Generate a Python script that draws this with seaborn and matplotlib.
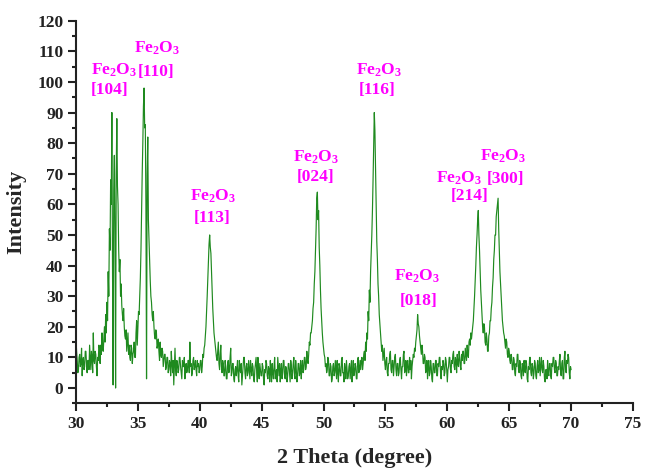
import matplotlib
matplotlib.use("Agg")
import numpy as np
import pandas as pd
import seaborn as sns
import matplotlib.pyplot as plt

# ---- data (2-theta 30..70, step 0.05) ----
intensity = [
    16, 12, 9, 5, 6, 10, 11, 7, 8, 13, 4, 9, 10, 6, 7, 12, 12, 8, 5, 9,          # 30
    9, 6, 14, 10, 6, 12, 10, 5, 18, 9, 8, 12, 11, 7, 4, 10, 9, 14, 13, 8,         # 31
    14, 11, 18, 13, 12, 16, 20, 15, 24, 18, 28, 22, 38, 30, 52, 45, 68, 60, 90, 40,  # 32
    1, 65, 76, 50, 0, 70, 88, 66, 60, 45, 38, 42, 30, 34, 27, 24, 22, 26, 20, 17,    # 33
    16, 19, 12, 15, 18, 11, 14, 10, 9, 14, 13, 8, 11, 12, 15, 10, 10, 18, 22, 14,    # 34
    20, 25, 24, 30, 36, 45, 58, 70, 80, 92, 98, 85, 86, 60, 3, 70, 82, 55, 48, 40,   # 35
    35, 30, 28, 24, 22, 25, 20, 17, 16, 19, 18, 13, 14, 16, 12, 9, 15, 11, 10, 13,   # 36
    12, 7, 9, 11, 11, 6, 7, 10, 10, 5, 6, 9, 8, 4, 12, 8, 5, 9, 1, 7,              # 37
    13, 6, 4, 9, 8, 5, 6, 10, 10, 7, 5, 3, 9, 7, 7, 10, 3, 6, 8, 5,                # 38
    6, 9, 9, 5, 15, 7, 8, 4, 5, 9, 10, 6, 7, 9, 6, 4, 9, 7, 8, 5,                  # 39
    6, 9, 9, 5, 7, 11, 10, 13, 14, 17, 20, 25, 30, 36, 42, 47, 50, 46, 44, 38,     # 40
    32, 26, 22, 18, 16, 14, 12, 10, 9, 12, 15, 8, 6, 11, 14, 7, 5, 9, 8, 4,        # 41
    4, 9, 7, 3, 3, 8, 9, 5, 6, 10, 13, 4, 5, 8, 8, 3, 2, 6, 7, 4,                  # 42
    6, 9, 4, 2, 9, 6, 5, 8, 1, 4, 7, 10, 10, 5, 3, 7, 8, 4, 5, 9,                  # 43
    6, 3, 9, 6, 4, 8, 7, 3, 2, 6, 8, 10, 5, 2, 10, 6, 3, 8, 6, 4,                  # 44
    4, 8, 7, 3, 1, 6, 5, 9, 8, 4, 3, 7, 6, 2, 9, 5, 2, 8, 5, 3,                    # 45
    7, 10, 3, 5, 6, 2, 10, 7, 4, 8, 2, 6, 8, 3, 5, 9, 9, 4, 3, 7,                  # 46
    6, 2, 4, 8, 8, 5, 2, 9, 7, 3, 5, 8, 10, 4, 3, 9, 6, 2, 4, 8,                   # 47
    8, 4, 5, 9, 3, 7, 9, 5, 6, 10, 10, 6, 7, 12, 9, 8, 11, 15, 14, 18,             # 48
    18, 20, 22, 26, 28, 34, 38, 45, 52, 62, 64, 55, 58, 46, 40, 32, 26, 22, 18, 15,  # 49
    13, 11, 10, 7, 8, 5, 6, 10, 9, 4, 4, 8, 7, 2, 3, 7, 8, 4, 5, 9,                # 50
    6, 3, 9, 5, 2, 8, 7, 4, 4, 9, 10, 5, 5, 2, 8, 6, 3, 9, 6, 3,                   # 51
    4, 7, 8, 3, 6, 9, 2, 5, 9, 4, 5, 8, 7, 3, 3, 9, 10, 5, 6, 9,                   # 52
    6, 9, 10, 6, 8, 11, 12, 9, 15, 12, 18, 16, 25, 22, 32, 28, 38, 44, 50, 58,     # 53
    68, 80, 90, 84, 72, 60, 48, 42, 34, 30, 24, 21, 18, 15, 12, 14, 9, 11, 13, 8,  # 54
    6, 9, 10, 5, 4, 8, 8, 11, 12, 6, 5, 9, 9, 4, 7, 10, 11, 6, 4, 8,               # 55
    8, 4, 5, 9, 10, 6, 3, 7, 7, 11, 12, 5, 6, 9, 4, 8, 9, 5, 5, 10,                # 56
    6, 9, 3, 7, 9, 11, 10, 13, 12, 15, 17, 19, 24, 21, 20, 17, 15, 13, 11, 14,     # 57
    12, 8, 8, 11, 10, 5, 6, 9, 3, 7, 9, 4, 5, 9, 7, 3, 2, 8, 8, 5,                 # 58
    5, 9, 9, 4, 4, 8, 7, 10, 10, 5, 3, 7, 6, 9, 8, 4, 5, 10, 9, 6,                 # 59
    2, 6, 7, 10, 10, 6, 5, 9, 8, 11, 12, 7, 6, 10, 9, 5, 11, 8, 7, 12,             # 60
    10, 7, 6, 11, 9, 12, 12, 8, 8, 13, 11, 9, 14, 11, 10, 15, 16, 14, 18, 16,      # 61
    18, 20, 22, 26, 30, 35, 40, 46, 50, 55, 58, 50, 45, 38, 32, 28, 24, 20, 18, 21,  # 62
    20, 15, 14, 18, 16, 12, 12, 17, 18, 22, 22, 26, 28, 33, 36, 42, 45, 50, 50, 56,  # 63
    58, 60, 62, 52, 45, 38, 34, 30, 26, 22, 20, 18, 17, 15, 13, 16, 15, 11, 10, 13,  # 64
    12, 9, 8, 11, 10, 6, 6, 10, 9, 5, 4, 8, 7, 11, 11, 6, 5, 9, 8, 4,              # 65
    3, 8, 7, 4, 9, 6, 5, 9, 8, 3, 2, 7, 6, 10, 10, 5, 4, 8, 7, 3,                  # 66
    5, 9, 8, 4, 3, 7, 9, 5, 6, 10, 4, 7, 10, 6, 5, 9, 7, 3, 2, 6,                  # 67
    6, 3, 9, 5, 4, 8, 8, 4, 3, 8, 7, 10, 10, 6, 5, 9, 8, 4, 4, 7,                  # 68
    6, 9, 11, 5, 4, 8, 9, 3, 3, 10, 12, 6, 5, 9, 8, 11, 10, 5, 3, 7,               # 69
    6,                                                                             # 70
]
two_theta = np.linspace(30.0, 70.0, len(intensity))

# peak labels
hkl_labels = ["[104]", "[110]", "[113]", "[024]", "[116]", "[018]", "[214]", "[300]"]
phase_label = "Fe$_2$O$_3$"
# label anchor positions (x, y) for the phase line and the hkl line
phase_pos = [(33.05, 103.9), (36.55, 111.1), (41.1, 62.5), (49.43, 75.5),
             (54.47, 103.9), (57.58, 36.4), (60.94, 68.6), (64.49, 75.6)]
hkl_pos = [(32.75, 97.4), (36.5, 103.3), (40.97, 55.5), (49.35, 69.0),
           (54.3, 97.4), (57.65, 28.3), (61.8, 62.6), (64.73, 68.3)]

x_ticks = [30, 35, 40, 45, 50, 55, 60, 65, 70, 75]
y_ticks = [0, 10, 20, 30, 40, 50, 60, 70, 80, 90, 100, 110, 120]

df = pd.DataFrame({"two_theta": two_theta, "intensity": intensity})

sns.set_theme(style="ticks")
plt.rcParams.update({
    "font.family": ["Liberation Serif", "DejaVu Serif"],
    "font.weight": "bold",
    "mathtext.fontset": "custom",
    "mathtext.rm": "Liberation Serif:bold",
    "mathtext.it": "Liberation Serif:bold",
    "mathtext.bf": "Liberation Serif:bold",
    "mathtext.default": "rm",
    "axes.linewidth": 1.5,
    "xtick.major.width": 1.5,
    "ytick.major.width": 1.5,
    "xtick.minor.width": 1.5,
    "ytick.minor.width": 1.5,
    "xtick.major.size": 6,
    "ytick.major.size": 6,
    "xtick.minor.size": 3,
    "ytick.minor.size": 3,
    "xtick.color": "#222222",
    "ytick.color": "#222222",
})

fig = plt.figure(figsize=(6.45, 4.71), dpi=100)
fig.patch.set_facecolor("white")
ax = fig.add_axes([0.1178, 0.1437, 0.8636, 0.8124])
ax.set_facecolor("white")

sns.lineplot(data=df, x="two_theta", y="intensity", ax=ax, color="#1f8a1f",
             linewidth=0.85, estimator=None, sort=False)

ax.set_xlim(30, 75)
ax.set_ylim(-5, 120)
ax.set_xticks(x_ticks)
ax.set_yticks(y_ticks)
ax.set_xticks(np.arange(32.5, 75, 5), minor=True)
ax.set_yticks(np.arange(-5, 120, 10), minor=True)
ax.tick_params(axis="both", which="both", direction="out", labelsize=12.5, pad=3)
for lab in ax.get_xticklabels() + ax.get_yticklabels():
    lab.set_fontweight("bold")

sns.despine(ax=ax)
for s in ("left", "bottom"):
    ax.spines[s].set_color("#222222")

ax.set_xlabel("2 Theta (degree)", fontsize=16, fontweight="bold", labelpad=12)
ax.set_ylabel("Intensity", fontsize=16, fontweight="bold", labelpad=8)

for (px, py), (hx, hy), lab in zip(phase_pos, hkl_pos, hkl_labels):
    ax.text(px, py, phase_label, color="#ff00ff", fontsize=12.5, fontweight="bold",
            ha="center", va="center")
    ax.text(hx, hy, lab, color="#ff00ff", fontsize=12.5, fontweight="bold",
            ha="center", va="center")

fig.savefig("out.png", dpi=100, facecolor="white")
